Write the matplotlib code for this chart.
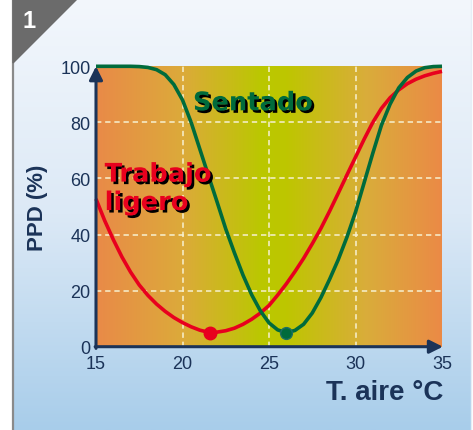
import numpy as np
import matplotlib.pyplot as plt
import matplotlib.patheffects as pe
from matplotlib.colors import LinearSegmentedColormap
from matplotlib.patches import Polygon

# PPD (%) against air temperature (°C)
temp_sentado = [15, 16, 17, 17.5, 18, 18.5, 19, 19.5, 20, 20.5, 21, 21.5, 22, 22.5,
                23, 23.5, 24, 24.5, 25, 25.5, 26, 26.5, 27, 27.5, 28, 28.5, 29, 29.5,
                30, 30.5, 31, 31.5, 32, 32.5, 33, 33.5, 34, 34.5, 35]
ppd_sentado = [100, 100, 100, 99.9, 99.6, 98.8, 97, 93.5, 88, 80, 70.5, 61, 51.6, 42,
               33.5, 25.5, 18.5, 12.8, 8.5, 6, 5, 5.8, 8, 12, 17.5, 24, 31, 39,
               48, 58.5, 69, 79, 86.5, 92.3, 96, 98.3, 99.5, 99.9, 100]

temp_trabajo = [15, 15.5, 16, 16.5, 17, 17.5, 18, 18.5, 19, 19.5, 20, 20.5, 21, 21.6,
                22, 22.5, 23, 23.5, 24, 24.5, 25, 25.5, 26, 26.5, 27, 27.5, 28, 28.5,
                29, 29.5, 30, 30.5, 31, 31.5, 32, 32.5, 33, 33.5, 34, 34.5, 35]
ppd_trabajo = [52.7, 45, 38.2, 32, 26.6, 22, 18.3, 15.2, 12.6, 10.4, 8.6, 7.1, 5.9, 5,
               5.2, 5.7, 6.6, 8, 9.8, 12, 14.7, 18.4, 22.4, 26.8, 31.5, 36.7, 42.2, 48.3,
               54.7, 61.2, 67.6, 74, 80, 85, 88.8, 91.6, 93.8, 95.4, 96.6, 97.5, 98.2]

min_sentado = (26, 5)
min_trabajo = (21.6, 5)

x_ticks = [15, 20, 25, 30, 35]
y_ticks = [0, 20, 40, 60, 80, 100]

navy = '#1b3358'
red = '#e8001e'
green = '#006b3c'

fig = plt.figure(figsize=(4.73, 4.31), dpi=100)
fig.patch.set_facecolor('white')

# panel background in pixel coordinates
bg = fig.add_axes([0, 0, 1, 1])
bg.set_xlim(0, 473)
bg.set_ylim(431, 0)
bg.axis('off')
panel_cmap = LinearSegmentedColormap.from_list('panel', ['#f3f7fc', '#dce9f6', '#a8cdea'])
bg.imshow(np.linspace(0, 1, 256).reshape(-1, 1), cmap=panel_cmap, aspect='auto',
          extent=(13, 471, 431, 0), zorder=0)
bg.plot([13, 13], [0, 431], color='#8a8a8a', lw=1.6, zorder=1)
bg.plot([471, 471], [0, 431], color='#e6eef6', lw=1.0, zorder=1)
bg.add_patch(Polygon([[13, 0], [77, 0], [13, 64]], closed=True, color='#6b6b6b', zorder=2))
bg.text(29, 21, '1', color='white', fontsize=17, fontweight='bold',
        ha='center', va='center', family='Liberation Sans', zorder=3)

ax = fig.add_axes([96 / 473, (431 - 347.7) / 431, 346 / 473, 280.4 / 431])
ax.set_xlim(15, 35)
ax.set_ylim(0, 100)

# horizontal orange / yellow-green gradient behind the curves
plot_cmap = LinearSegmentedColormap.from_list(
    'plot', [(0, '#e98a48'), (0.25, '#dcaa3a'), (0.48, '#bac800'),
             (0.55, '#bec600'), (0.78, '#d9ad3a'), (1, '#eb8a46')])
ax.imshow(np.linspace(0, 1, 256).reshape(1, -1), cmap=plot_cmap, aspect='auto',
          extent=(15, 35, 0, 100), zorder=0)

for s in ax.spines.values():
    s.set_visible(False)

ax.set_xticks(x_ticks)
ax.set_yticks(y_ticks)
ax.tick_params(length=0, labelsize=13, labelcolor=navy)
ax.tick_params(axis='x', pad=6)
ax.tick_params(axis='y', pad=4)
for lab in ax.get_xticklabels() + ax.get_yticklabels():
    lab.set_family('Liberation Sans')

for xv in x_ticks[1:-1]:
    ax.axvline(xv, color='#f7f1d0', lw=1.1, ls=(0, (3.5, 2.5)), zorder=1)
for yv in y_ticks[1:-1]:
    ax.axhline(yv, color='#f7f1d0', lw=1.1, ls=(0, (3.5, 2.5)), zorder=1)

ax.plot(temp_trabajo, ppd_trabajo, color=red, lw=2.6, zorder=3, clip_on=False,
        solid_capstyle='butt', solid_joinstyle='round')
ax.plot(temp_sentado, ppd_sentado, color=green, lw=2.6, zorder=4, clip_on=False,
        solid_capstyle='butt', solid_joinstyle='round')
ax.plot(*min_trabajo, 'o', color=red, ms=9, zorder=5)
ax.plot(*min_sentado, 'o', color=green, mec='#1d6f63', ms=8.5, zorder=5)

# axes with arrow heads
arrow = dict(arrowstyle='-|>', lw=2.2, color=navy, mutation_scale=20, shrinkA=0, shrinkB=0)
ax.annotate('', xy=(15, 100), xytext=(15, -0.6), arrowprops=arrow,
            annotation_clip=False, zorder=6)
ax.annotate('', xy=(35.05, 0), xytext=(14.95, 0), arrowprops=arrow,
            annotation_clip=False, zorder=6)

shadow = [pe.withSimplePatchShadow(offset=(1.8, -1.8), shadow_rgbFace='black', alpha=1)]
ax.text(24.08, 86.8, 'Sentado', color=green, fontsize=18.5, fontweight='bold',
        ha='center', va='center', path_effects=shadow, zorder=7)
ax.text(15.5, 66, 'Trabajo\nligero', color=red, fontsize=18.5, fontweight='bold',
        ha='left', va='top', linespacing=1.12, path_effects=shadow, zorder=7)

ax.set_ylabel('PPD (%)', fontsize=16, fontweight='bold', color=navy,
              family='Liberation Sans', labelpad=9)
fig.text(443 / 473, 1 - 393 / 431, 'T. aire °C', fontsize=20, fontweight='bold',
         color=navy, family='Liberation Sans', ha='right', va='center')

fig.savefig('out.png', dpi=100)
